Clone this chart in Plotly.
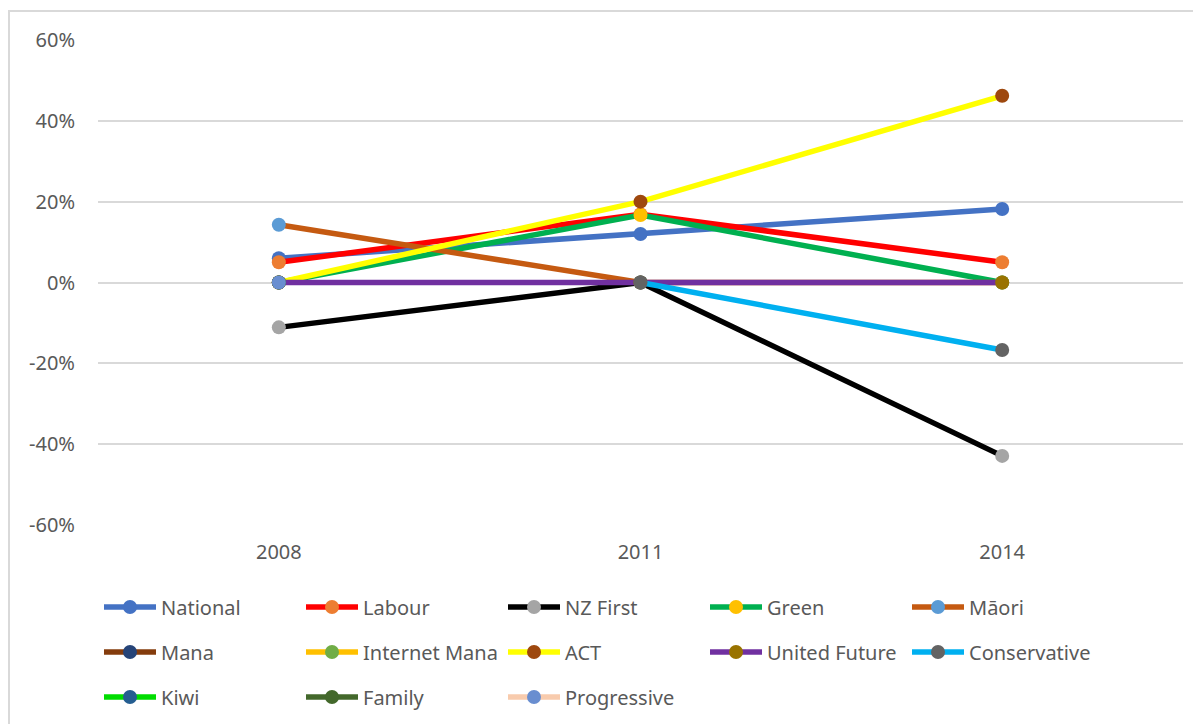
import plotly.graph_objects as go

years = ["2008", "2011", "2014"]

parties = ["National", "Labour", "NZ First", "Green", "Māori",
           "Mana", "Internet Mana", "ACT", "United Future", "Conservative",
           "Kiwi", "Family", "Progressive"]

national = [0.060, 0.120, 0.182]
labour = [0.050, 0.169, 0.050]
nz_first = [-0.111, 0.0, -0.429]
green = [0.0, 0.167, 0.0]
maori = [0.143, 0.0, 0.0]
mana = [None, 0.0, None]
internet_mana = [None, None, 0.0]
act = [0.0, 0.200, 0.462]
united_future = [0.0, 0.0, 0.0]
conservative = [None, 0.0, -0.167]
kiwi = [0.0, None, None]
family = [0.0, None, None]
progressive = [0.0, None, None]

values = [national, labour, nz_first, green, maori, mana, internet_mana, act,
          united_future, conservative, kiwi, family, progressive]

y_ticks = [-0.6, -0.4, -0.2, 0.0, 0.2, 0.4, 0.6]
y_tick_labels = ["-60%", "-40%", "-20%", "0%", "20%", "40%", "60%"]

line_colors = ["#4472C4", "#FF0000", "#000000", "#00B050", "#C55A11",
               "#843C0C", "#FFC000", "#FFFF00", "#7030A0", "#00B0F0",
               "#00DD00", "#43682B", "#F8CBAD"]
marker_colors = ["#4472C4", "#ED7D31", "#A5A5A5", "#FFC000", "#5B9BD5",
                 "#264478", "#70AD47", "#9E480E", "#997300", "#636363",
                 "#255E91", "#43682B", "#698ED0"]

FONT = "Noto Sans"
FS = 20
fig = go.Figure()
for i, (name, vals) in enumerate(zip(parties, values)):
    row = i // 5
    fig.add_trace(go.Scatter(
        x=years, y=vals, name=name, mode="lines+markers",
        line=dict(color=line_colors[i], width=5.5),
        marker=dict(color=marker_colors[i], size=14),
        legend=["legend", "legend2", "legend3"][row],
    ))

OFF = 8  # page body margin
W, H = 1193, 716
L, R, T, B = 98 - OFF, W - (1183 - OFF), 40 - OFF, H - (525 - OFF)
pw = W - L - R
ph = H - T - B

def py(page_pix):
    return (H - B - (page_pix - OFF)) / ph

def px(page_pix):
    return (page_pix - OFF - L) / pw

legend_common = dict(orientation="h", xanchor="left", x=px(99),
                     yanchor="middle",
                     entrywidth=135, entrywidthmode="pixels", itemwidth=52,
                     font=dict(family=FONT, size=FS, color="#595959"),
                     bgcolor="rgba(0,0,0,0)", tracegroupgap=0)

fig.update_layout(
    width=W, height=H,
    margin=dict(l=L, r=R, t=T, b=B, autoexpand=False),
    paper_bgcolor="white", plot_bgcolor="white",
    font=dict(family=FONT, size=FS, color="#595959"),
    showlegend=True,
    legend=dict(legend_common, y=py(607)),
    legend2=dict(legend_common, y=py(652)),
    legend3=dict(legend_common, y=py(697)),
    xaxis=dict(type="category", range=[-0.5, 2.5], showgrid=False,
               showline=False, zeroline=False, ticks="", automargin=False,
               tickfont=dict(family=FONT, size=FS, color="#595959"),
               ticklabelstandoff=13),
    yaxis=dict(range=[-0.6, 0.6], tickvals=y_ticks, ticktext=y_tick_labels,
               showgrid=True, gridcolor="#D9D9D9", gridwidth=1.5,
               zeroline=True, zerolinecolor="#D9D9D9", zerolinewidth=1.5,
               showline=False, ticks="", automargin=False,
               tickfont=dict(family=FONT, size=FS, color="#595959"),
               ticklabelstandoff=22),
    shapes=[dict(type="rect", xref="paper", yref="paper",
                 x0=px(9), x1=1.2,
                 y0=-1.0, y1=py(11),
                 line=dict(color="#D9D9D9", width=2), layer="below")],
)

fig.write_html("out.html")
